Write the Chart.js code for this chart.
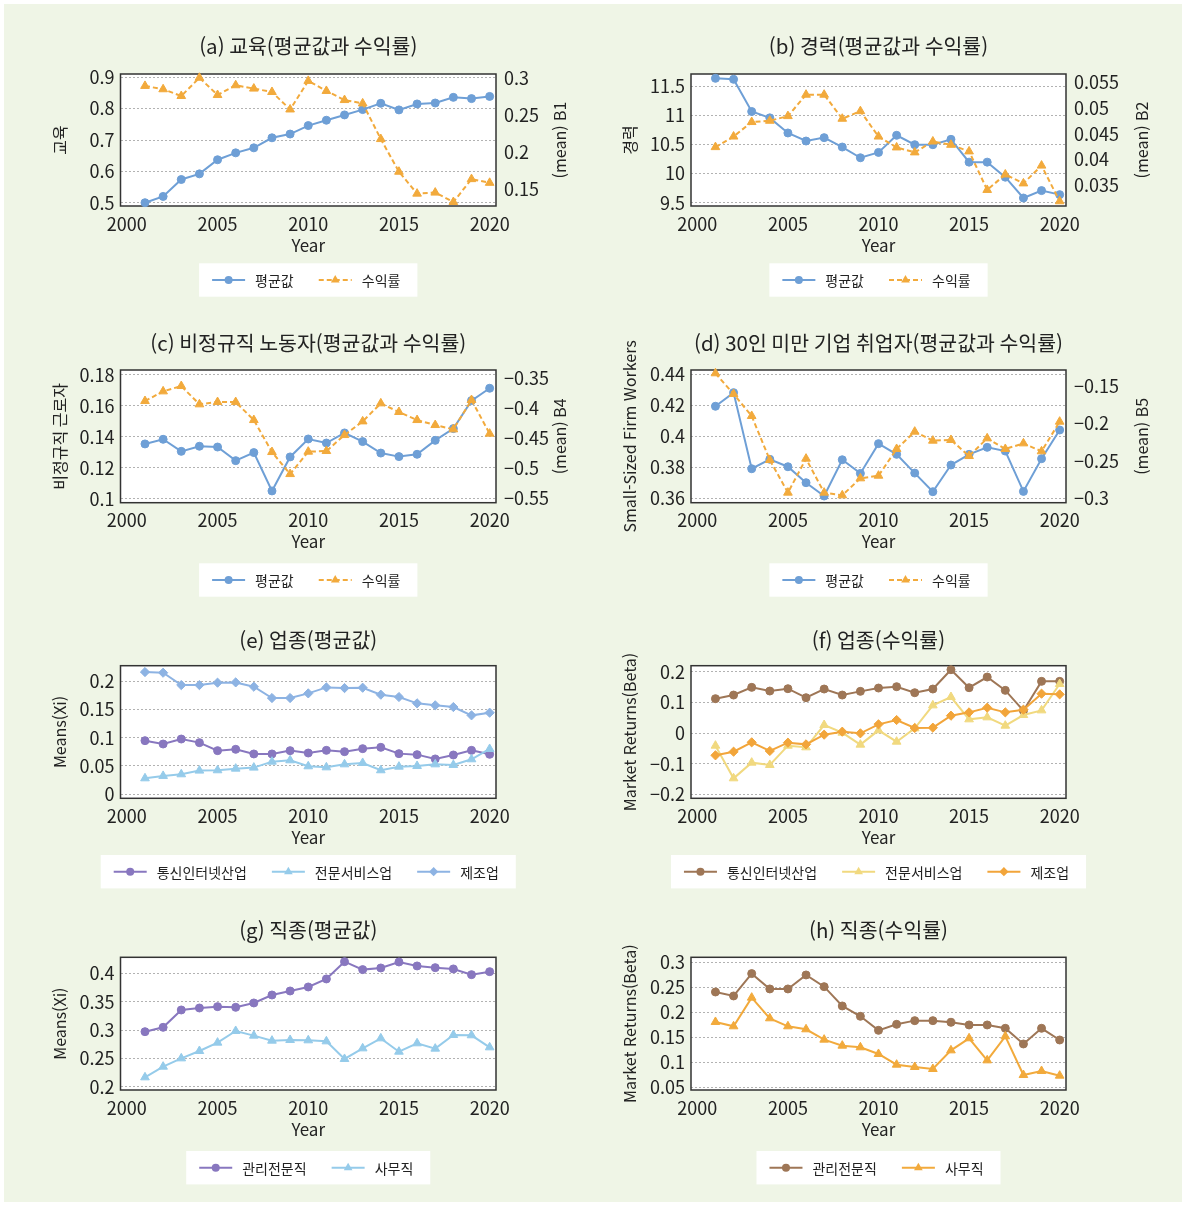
<!DOCTYPE html>
<html lang="ko">
<head>
<meta charset="utf-8">
<title>교육·경력·업종·직종별 평균값과 수익률</title>
<script src="https://cdn.jsdelivr.net/npm/chart.js@4.4.1/dist/chart.umd.min.js"></script>
<style>
  html, body { margin: 0; padding: 0; background: #ffffff; }
  #page { position: relative; width: 1186px; height: 1206px; background: #ffffff; overflow: hidden; }
  #sheet { position: absolute; left: 4px; top: 4px; right: 4px; bottom: 4px; background: #eff5e6; }
  #page canvas { position: absolute; left: 0; top: 0; }
</style>
</head>
<body>
<div id="page">
  <div id="sheet"></div>
  <canvas id="chartA" width="1186" height="1206"></canvas>
  <canvas id="chartB" width="1186" height="1206"></canvas>
  <canvas id="chartC" width="1186" height="1206"></canvas>
  <canvas id="chartD" width="1186" height="1206"></canvas>
  <canvas id="chartE" width="1186" height="1206"></canvas>
  <canvas id="chartF" width="1186" height="1206"></canvas>
  <canvas id="chartG" width="1186" height="1206"></canvas>
  <canvas id="chartH" width="1186" height="1206"></canvas>
</div>
<script>
// ---- data ----
const years = [2001, 2002, 2003, 2004, 2005, 2006, 2007, 2008, 2009, 2010,
               2011, 2012, 2013, 2014, 2015, 2016, 2017, 2018, 2019, 2020];
const yearTicks = [2000, 2005, 2010, 2015, 2020];

// (a) 교육
const eduMean = [0.500, 0.520, 0.574, 0.592, 0.637, 0.659, 0.675, 0.707, 0.719, 0.746,
                 0.763, 0.780, 0.797, 0.817, 0.796, 0.815, 0.818, 0.836, 0.832, 0.839];
const eduBeta = [0.290, 0.2855, 0.2764, 0.301, 0.2777, 0.2909, 0.2864, 0.2818, 0.2582, 0.2968,
                 0.2832, 0.2709, 0.2664, 0.2182, 0.1741, 0.1445, 0.1459, 0.1332, 0.1641, 0.1591];
const eduMeanTicks = [0.5, 0.6, 0.7, 0.8, 0.9];
const eduBetaTicks = [0.15, 0.2, 0.25, 0.3];

// (b) 경력
const expMean = [11.632, 11.615, 11.063, 10.954, 10.695, 10.557, 10.615, 10.454, 10.270, 10.362,
                 10.655, 10.494, 10.494, 10.586, 10.195, 10.195, 9.937, 9.580, 9.707, 9.638];
const expBeta = [0.04241, 0.04446, 0.04727, 0.04752, 0.04842, 0.05257, 0.05257, 0.04791, 0.04938, 0.04446,
                 0.04235, 0.04139, 0.04350, 0.04286, 0.04158, 0.03411, 0.03711, 0.03538, 0.03883, 0.03192];
const expMeanTicks = [9.5, 10, 10.5, 11, 11.5];
const expBetaTicks = [0.035, 0.04, 0.045, 0.05, 0.055];

// (c) 비정규직 노동자
const nonregMean = [0.1354, 0.1384, 0.1306, 0.1339, 0.1334, 0.1246, 0.1298, 0.1050, 0.1270, 0.1386,
                    0.1360, 0.1425, 0.1369, 0.1295, 0.1272, 0.1287, 0.1377, 0.1453, 0.1634, 0.1714];
const nonregBeta = [-0.3889, -0.3728, -0.3639, -0.3944, -0.3906, -0.3906, -0.4206, -0.4739, -0.5106, -0.4733,
                    -0.4722, -0.4456, -0.4228, -0.3928, -0.4072, -0.4206, -0.4289, -0.4361, -0.3872, -0.4433];
const nonregMeanTicks = [0.1, 0.12, 0.14, 0.16, 0.18];
const nonregBetaTicks = [-0.55, -0.5, -0.45, -0.4, -0.35];

// (d) 30인 미만 기업 취업자
const smallMean = [0.4194, 0.4282, 0.3791, 0.3852, 0.3804, 0.3701, 0.3615, 0.3849, 0.3761, 0.3953,
                   0.3884, 0.3763, 0.3643, 0.3815, 0.3884, 0.3929, 0.3905, 0.3645, 0.3856, 0.4041];
const smallBeta = [-0.1333, -0.1609, -0.1902, -0.2489, -0.2924, -0.2471, -0.2924, -0.2960, -0.2733, -0.2698,
                   -0.2342, -0.2111, -0.2231, -0.2222, -0.2436, -0.2200, -0.2342, -0.2267, -0.2373, -0.1978];
const smallMeanTicks = [0.36, 0.38, 0.4, 0.42, 0.44];
const smallBetaTicks = [-0.3, -0.25, -0.2, -0.15];

// (e) 업종 평균값
const indMeanTelecom = [0.0947, 0.0888, 0.0976, 0.0912, 0.0771, 0.0794, 0.0712, 0.0712, 0.0771, 0.0729,
                        0.0776, 0.0753, 0.0806, 0.0829, 0.0718, 0.0700, 0.0624, 0.0694, 0.0776, 0.0706];
const indMeanProf = [0.0282, 0.0324, 0.0353, 0.0418, 0.0424, 0.0453, 0.0471, 0.0576, 0.0600, 0.0494,
                     0.0476, 0.0529, 0.0553, 0.0424, 0.0488, 0.0500, 0.0529, 0.0518, 0.0618, 0.0800];
const indMeanMfg = [0.2159, 0.2147, 0.1929, 0.1929, 0.1971, 0.1976, 0.1900, 0.1700, 0.1700, 0.1782,
                    0.1888, 0.1876, 0.1882, 0.1759, 0.1718, 0.1606, 0.1571, 0.1541, 0.1394, 0.1441];
const indMeanTicks = [0, 0.05, 0.1, 0.15, 0.2];

// (f) 업종 수익률
const indBetaTelecom = [0.1120, 0.1239, 0.1489, 0.1370, 0.1446, 0.1152, 0.1435, 0.1239, 0.1359, 0.1467,
                        0.1511, 0.1315, 0.1435, 0.2065, 0.1478, 0.1826, 0.1391, 0.0728, 0.1685, 0.1685];
const indBetaProf = [-0.0413, -0.1478, -0.0967, -0.1043, -0.0413, -0.0467, 0.0261, 0.0011, -0.0380, 0.0087,
                     -0.0283, 0.0152, 0.0902, 0.1174, 0.0446, 0.0511, 0.0239, 0.0587, 0.0739, 0.1598];
const indBetaMfg = [-0.0728, -0.0609, -0.0304, -0.0587, -0.0315, -0.0370, -0.0054, 0.0043, -0.0011, 0.0283,
                    0.0424, 0.0163, 0.0174, 0.0565, 0.0674, 0.0826, 0.0674, 0.0761, 0.1283, 0.1261];
const indBetaTicks = [-0.2, -0.1, 0, 0.1, 0.2];

// (g) 직종 평균값
const occMeanMgr = [0.2973, 0.3050, 0.3357, 0.3392, 0.3416, 0.3404, 0.3481, 0.3622, 0.3693, 0.3764,
                    0.3906, 0.4212, 0.4071, 0.4100, 0.4206, 0.4136, 0.4106, 0.4083, 0.3982, 0.4035];
const occMeanClerk = [0.2165, 0.2354, 0.2501, 0.2631, 0.2779, 0.2985, 0.2903, 0.2814, 0.2826, 0.2820,
                      0.2802, 0.2490, 0.2678, 0.2855, 0.2619, 0.2767, 0.2673, 0.2914, 0.2909, 0.2696];
const occMeanTicks = [0.2, 0.25, 0.3, 0.35, 0.4];

// (h) 직종 수익률
const occBetaMgr = [0.2410, 0.2330, 0.2779, 0.2471, 0.2471, 0.2752, 0.2517, 0.2129, 0.1921, 0.1639,
                    0.1760, 0.1834, 0.1834, 0.1800, 0.1747, 0.1747, 0.1680, 0.1365, 0.1680, 0.1445];
const occBetaClerk = [0.1807, 0.1720, 0.2296, 0.1881, 0.1720, 0.1660, 0.1452, 0.1331, 0.1298, 0.1164,
                      0.0949, 0.0902, 0.0862, 0.1237, 0.1479, 0.1036, 0.1519, 0.0741, 0.0822, 0.0728];
const occBetaTicks = [0.05, 0.1, 0.15, 0.2, 0.25, 0.3];

// ---- styling ----
const FONT = '"Noto Sans CJK KR", "Noto Sans", sans-serif';
const TEXT = '#222222';
const GRID = '#b2b2b2';
const FRAME = '#333333';
const BLUE = '#6e9fd6';
const ORANGE = '#f2aa3c';
const PURPLE = '#8877bf';
const SKY = '#95cbea';
const STEEL = '#8db3e3';
const BROWN = '#9e7656';
const SAND = '#f1d97f';
const AMBER = '#f2a53a';

const W = 1186, H = 1206;
const X_MIN = 1999.65, X_MAX = 2020.35;
const LW = 70, RW = 80, XH = 40;

// plot frames per column / row
const COLS = {
  L: { l: 120.5, r: 496, yTitleX: 59.5, y2TitleX: 559.5 },
  R: { l: 691, r: 1066, yTitleX: 630, y2TitleX: 1142 }
};
const ROWS = [
  { t: 74,    b: 206,    titleY: 46.7,  yearY: 246,   legendY: 280 },
  { t: 370,   b: 502.7,  titleY: 343.3, yearY: 541.7, legendY: 580 },
  { t: 665.7, b: 798.3,  titleY: 640,   yearY: 837.7, legendY: 871.7 },
  { t: 957.3, b: 1090,   titleY: 930,   yearY: 1130,  legendY: 1167.7 }
];

Chart.defaults.font.family = FONT;
Chart.defaults.color = TEXT;

function fmt(v) { return String(v).replace('-', '\u2212'); }

function drawMarker(ctx, style, x, y, r, color) {
  ctx.beginPath();
  if (style === 'circle') {
    ctx.arc(x, y, r, 0, Math.PI * 2);
  } else if (style === 'triangle') {
    let a = 0;
    ctx.moveTo(x + Math.sin(a) * r, y - Math.cos(a) * r);
    a += 2 * Math.PI / 3;
    ctx.lineTo(x + Math.sin(a) * r, y - Math.cos(a) * r);
    a += 2 * Math.PI / 3;
    ctx.lineTo(x + Math.sin(a) * r, y - Math.cos(a) * r);
    ctx.closePath();
  } else {
    ctx.moveTo(x - r, y); ctx.lineTo(x, y - r); ctx.lineTo(x + r, y); ctx.lineTo(x, y + r);
    ctx.closePath();
  }
  ctx.fillStyle = color;
  ctx.fill();
}

const RADIUS = { circle: 4, triangle: 5, rectRot: 4.6 };

function decorPlugin(spec, col, row) {
  return {
    id: 'decor',
    beforeDraw(chart) {
      const a = chart.chartArea, ctx = chart.ctx;
      ctx.save();
      ctx.fillStyle = '#ffffff';
      ctx.fillRect(a.left, a.top, a.right - a.left, a.bottom - a.top);
      ctx.restore();
    },
    beforeDatasetsDraw(chart) {
      const a = chart.chartArea, ctx = chart.ctx;
      ctx.save();
      ctx.strokeStyle = FRAME;
      ctx.lineWidth = 1.5;
      ctx.strokeRect(a.left, a.top, a.right - a.left, a.bottom - a.top);
      ctx.restore();
    },
    afterDraw(chart) {
      const a = chart.chartArea, ctx = chart.ctx;
      const cx = (a.left + a.right) / 2, cy = (a.top + a.bottom) / 2;
      ctx.save();
      ctx.fillStyle = TEXT;
      ctx.textAlign = 'center';
      ctx.textBaseline = 'middle';
      // panel title
      ctx.font = '20.5px ' + FONT;
      ctx.fillText(spec.title, cx, row.titleY);
      // x axis title
      ctx.font = '17px ' + FONT;
      ctx.fillText('Year', cx, row.yearY);
      // y axis titles
      ctx.font = '16px ' + FONT;
      ctx.save();
      ctx.translate(col.yTitleX, cy);
      ctx.rotate(-Math.PI / 2);
      ctx.fillText(spec.yTitle, 0, 0);
      ctx.restore();
      if (spec.y2Title) {
        ctx.save();
        ctx.translate(col.y2TitleX, cy);
        ctx.rotate(-Math.PI / 2);
        ctx.fillText(spec.y2Title, 0, 0);
        ctx.restore();
      }
      // legend
      const SAMPLE = 33, GAP = 10, ITEMGAP = 25, PADL = 13, PADR = 17, BOXH = 33.4;
      ctx.font = '14px ' + FONT;
      const items = spec.series;
      const widths = items.map(s => ctx.measureText(s.label).width);
      let total = PADL + PADR + ITEMGAP * (items.length - 1);
      widths.forEach(w => { total += SAMPLE + GAP + w; });
      let x = cx - total / 2;
      const ly = row.legendY;
      ctx.fillStyle = '#ffffff';
      ctx.fillRect(x, ly - BOXH / 2, total, BOXH);
      x += PADL;
      items.forEach((s, i) => {
        ctx.save();
        ctx.strokeStyle = s.color;
        ctx.lineWidth = 2;
        ctx.setLineDash(s.dash || []);
        ctx.beginPath();
        ctx.moveTo(x, ly);
        ctx.lineTo(x + SAMPLE, ly);
        ctx.stroke();
        ctx.restore();
        drawMarker(ctx, s.marker, x + SAMPLE / 2, ly, RADIUS[s.marker], s.color);
        ctx.fillStyle = TEXT;
        ctx.textAlign = 'left';
        ctx.fillText(s.label, x + SAMPLE + GAP, ly + 0.5);
        x += SAMPLE + GAP + widths[i] + ITEMGAP;
      });
      ctx.restore();
    }
  };
}

function yScale(cfg, position, withGrid, width) {
  return {
    type: 'linear',
    position: position,
    min: cfg.min,
    max: cfg.max,
    afterBuildTicks: s => { s.ticks = cfg.ticks.map(v => ({ value: v })); },
    afterFit: s => { s.width = width; },
    grid: { display: withGrid, color: GRID, lineWidth: 1, drawTicks: false, tickLength: 0 },
    border: { display: false, dash: [2, 2] },
    ticks: {
      padding: position === 'left' ? 6 : 8,
      color: TEXT,
      font: { size: 18 },
      callback: v => fmt(v)
    }
  };
}

function makeChart(spec) {
  const col = COLS[spec.col], row = ROWS[spec.row];
  const hasRight = !!spec.y2;
  const scales = {
    x: {
      type: 'linear',
      min: X_MIN,
      max: X_MAX,
      afterBuildTicks: s => { s.ticks = yearTicks.map(v => ({ value: v })); },
      afterFit: s => { s.height = XH; },
      grid: { display: false, drawTicks: false, tickLength: 0 },
      border: { display: false },
      ticks: { padding: 7, color: TEXT, font: { size: 18 }, maxRotation: 0, autoSkip: false, callback: v => String(v) }
    },
    y: yScale(spec.y, 'left', true, LW)
  };
  if (hasRight) scales.y2 = yScale(spec.y2, 'right', false, RW);

  const datasets = spec.series.map((s, i) => ({
    label: s.label,
    data: years.map((yr, k) => ({ x: yr, y: s.data[k] })),
    yAxisID: s.axis || 'y',
    borderColor: s.color,
    backgroundColor: s.color,
    borderWidth: 2,
    borderDash: s.dash || [],
    pointStyle: s.marker,
    pointRadius: RADIUS[s.marker],
    pointHoverRadius: RADIUS[s.marker],
    pointBorderWidth: 1,
    pointBackgroundColor: s.color,
    pointBorderColor: s.color,
    tension: 0,
    clip: false,
    order: -i
  }));

  new Chart(document.getElementById(spec.id), {
    type: 'line',
    data: { datasets },
    options: {
      responsive: false,
      animation: false,
      devicePixelRatio: 1,
      events: [],
      layout: {
        padding: {
          left: col.l - LW,
          right: W - col.r - (hasRight ? RW : 0),
          top: row.t,
          bottom: H - row.b - XH
        }
      },
      plugins: { legend: { display: false }, title: { display: false }, tooltip: { enabled: false } },
      scales
    },
    plugins: [decorPlugin(spec, col, row)]
  });
}

const panels = [
  { id: 'chartA', col: 'L', row: 0, title: '(a) 교육(평균값과 수익률)', yTitle: '교육', y2Title: '(mean) B1',
    y: { min: 0.4895, max: 0.9105, ticks: eduMeanTicks }, y2: { min: 0.1278, max: 0.3061, ticks: eduBetaTicks },
    series: [
      { label: '평균값', data: eduMean, color: BLUE, marker: 'circle' },
      { label: '수익률', data: eduBeta, color: ORANGE, marker: 'triangle', axis: 'y2', dash: [5, 3] }
    ] },
  { id: 'chartB', col: 'R', row: 0, title: '(b) 경력(평균값과 수익률)', yTitle: '경력', y2Title: '(mean) B2',
    y: { min: 9.443, max: 11.706, ticks: expMeanTicks }, y2: { min: 0.0310, max: 0.05658, ticks: expBetaTicks },
    series: [
      { label: '평균값', data: expMean, color: BLUE, marker: 'circle' },
      { label: '수익률', data: expBeta, color: ORANGE, marker: 'triangle', axis: 'y2', dash: [5, 3] }
    ] },
  { id: 'chartC', col: 'L', row: 1, title: '(c) 비정규직 노동자(평균값과 수익률)', yTitle: '비정규직 근로자', y2Title: '(mean) B4',
    y: { min: 0.0974, max: 0.1832, ticks: nonregMeanTicks }, y2: { min: -0.5583, max: -0.3372, ticks: nonregBetaTicks },
    series: [
      { label: '평균값', data: nonregMean, color: BLUE, marker: 'circle' },
      { label: '수익률', data: nonregBeta, color: ORANGE, marker: 'triangle', axis: 'y2', dash: [5, 3] }
    ] },
  { id: 'chartD', col: 'R', row: 1, title: '(d) 30인 미만 기업 취업자(평균값과 수익률)', yTitle: 'Small-Sized Firm Workers', y2Title: '(mean) B5',
    y: { min: 0.3572, max: 0.4428, ticks: smallMeanTicks }, y2: { min: -0.3058, max: -0.1289, ticks: smallBetaTicks },
    series: [
      { label: '평균값', data: smallMean, color: BLUE, marker: 'circle' },
      { label: '수익률', data: smallBeta, color: ORANGE, marker: 'triangle', axis: 'y2', dash: [5, 3] }
    ] },
  { id: 'chartE', col: 'L', row: 2, title: '(e) 업종(평균값)', yTitle: 'Means(Xi)',
    y: { min: -0.0071, max: 0.2271, ticks: indMeanTicks },
    series: [
      { label: '통신인터넷산업', data: indMeanTelecom, color: PURPLE, marker: 'circle' },
      { label: '전문서비스업', data: indMeanProf, color: SKY, marker: 'triangle' },
      { label: '제조업', data: indMeanMfg, color: STEEL, marker: 'rectRot' }
    ] },
  { id: 'chartF', col: 'R', row: 2, title: '(f) 업종(수익률)', yTitle: 'Market Returns(Beta)',
    y: { min: -0.2130, max: 0.2196, ticks: indBetaTicks },
    series: [
      { label: '통신인터넷산업', data: indBetaTelecom, color: BROWN, marker: 'circle' },
      { label: '전문서비스업', data: indBetaProf, color: SAND, marker: 'triangle' },
      { label: '제조업', data: indBetaMfg, color: AMBER, marker: 'rectRot' }
    ] },
  { id: 'chartG', col: 'L', row: 3, title: '(g) 직종(평균값)', yTitle: 'Means(Xi)',
    y: { min: 0.1941, max: 0.4289, ticks: occMeanTicks },
    series: [
      { label: '관리전문직', data: occMeanMgr, color: PURPLE, marker: 'circle' },
      { label: '사무직', data: occMeanClerk, color: SKY, marker: 'triangle' }
    ] },
  { id: 'chartH', col: 'R', row: 3, title: '(h) 직종(수익률)', yTitle: 'Market Returns(Beta)',
    y: { min: 0.0440, max: 0.3107, ticks: occBetaTicks },
    series: [
      { label: '관리전문직', data: occBetaMgr, color: BROWN, marker: 'circle' },
      { label: '사무직', data: occBetaClerk, color: ORANGE, marker: 'triangle' }
    ] }
];

panels.forEach(makeChart);
</script>
</body>
</html>
